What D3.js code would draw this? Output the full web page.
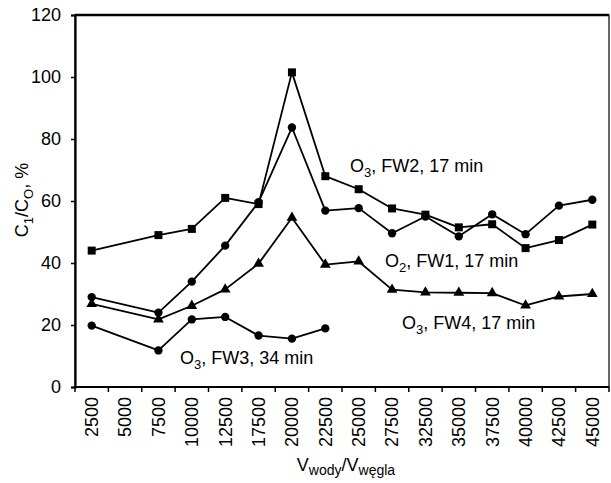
<!DOCTYPE html>
<html>
<head>
<meta charset="utf-8">
<script src="https://cdn.jsdelivr.net/npm/d3@7"></script>
<style>
  body { margin: 0; background: #fff; }
  text { font-family: "Liberation Sans", Arial, sans-serif; fill: #000; }
</style>
</head>
<body>
<svg id="chart" width="611" height="483"></svg>
<script>
'use strict';

// categories on the x axis (ratio of water to coal volume)
var categories = ['2500', '5000', '7500', '10000', '12500', '17500', '20000', '22500',
	'25000', '27500', '32500', '35000', '37500', '40000', '42500', '45000'];

var yTicks = [0, 20, 40, 60, 80, 100, 120];

// series values, null where there is no measurement
var fw2 = [44, null, 49, 51, 61, 59, 101.5, 68, 63.8, 57.6, 55.6, 51.5, 52.5, 44.8, 47.4, 52.4];
var fw1 = [29, null, 24, 34, 45.6, 59.6, 83.7, 56.9, 57.7, 49.6, 55, 48.6, 55.7, 49.3, 58.5, 60.4];
var fw4 = [26.8, null, 21.8, 26.2, 31.5, 39.8, 54.6, 39.5, 40.5, 31.4, 30.5, 30.4, 30.3, 26.3, 29.2, 30];
var fw3 = [19.8, null, 11.8, 21.8, 22.6, 16.6, 15.6, 18.9, null, null, null, null, null, null, null, null];

var series = [
	{name: 'fw2', values: fw2, marker: 'square'},
	{name: 'fw1', values: fw1, marker: 'circle'},
	{name: 'fw4', values: fw4, marker: 'triangle'},
	{name: 'fw3', values: fw3, marker: 'circle'}
];

var svg = d3.select('#chart');
var margin = {top: 15, right: 2, bottom: 96, left: 75};
var width = +svg.attr('width') - margin.left - margin.right;
var height = +svg.attr('height') - margin.top - margin.bottom;

var x = d3.scaleBand().domain(categories).range([margin.left, margin.left + width]).padding(0);
var y = d3.scaleLinear().domain([0, 120]).range([margin.top + height, margin.top]);

// frame
svg.append('rect')
	.attr('x', margin.left).attr('y', margin.top)
	.attr('width', width).attr('height', height)
	.attr('fill', 'none').attr('stroke', '#000').attr('stroke-width', 1.2);
svg.append('line')
	.attr('x1', margin.left).attr('x2', margin.left + width)
	.attr('y1', margin.top).attr('y2', margin.top)
	.attr('stroke', '#000').attr('stroke-width', 2.5);

// y axis
var yAxis = svg.append('g')
	.attr('transform', 'translate(' + margin.left + ',0)')
	.call(d3.axisLeft(y).tickValues(yTicks).tickSize(4).tickPadding(10));
yAxis.select('.domain').attr('stroke-width', 2.2);
yAxis.selectAll('.tick line').attr('stroke-width', 1.5);
yAxis.selectAll('text').style('font-size', '18px');

// x axis, ticks on the category boundaries
var boundaries = d3.range(categories.length + 1).map(function(i) { return margin.left + i * x.bandwidth(); });
var xAxis = svg.append('g');
xAxis.append('line')
	.attr('x1', margin.left).attr('x2', margin.left + width)
	.attr('y1', y(0)).attr('y2', y(0))
	.attr('stroke', '#000').attr('stroke-width', 2);
xAxis.selectAll('line.tick')
	.data(boundaries)
	.enter().append('line')
	.attr('class', 'tick')
	.attr('x1', function(d) { return d; }).attr('x2', function(d) { return d; })
	.attr('y1', y(0)).attr('y2', y(0) + 5)
	.attr('stroke', '#000').attr('stroke-width', 1.5);
xAxis.selectAll('text')
	.data(categories)
	.enter().append('text')
	.attr('transform', function(d) {
		return 'translate(' + (x(d) + x.bandwidth() / 2) + ',' + (y(0) + 10) + ') rotate(-90)';
	})
	.attr('dy', '0.35em')
	.attr('text-anchor', 'end')
	.style('font-size', '18px')
	.text(function(d) { return d; });

// lines (gaps are bridged, points are joined in order)
var line = d3.line()
	.x(function(d) { return x(d.c) + x.bandwidth() / 2; })
	.y(function(d) { return y(d.v); });

series.forEach(function(s) {
	var pts = s.values
		.map(function(v, i) { return {v: v, c: categories[i]}; })
		.filter(function(d) { return d.v !== null; });

	svg.append('path')
		.datum(pts)
		.attr('fill', 'none')
		.attr('stroke', '#000')
		.attr('stroke-width', 1.8)
		.attr('stroke-linejoin', 'round')
		.attr('d', line);

	var symType = s.marker === 'square' ? d3.symbolSquare
		: s.marker === 'triangle' ? d3.symbolTriangle : d3.symbolCircle;
	var symSize = s.marker === 'square' ? 64 : s.marker === 'triangle' ? 50 : 55;

	svg.selectAll(null)
		.data(pts)
		.enter().append('path')
		.attr('transform', function(d) {
			return 'translate(' + (x(d.c) + x.bandwidth() / 2) + ',' + y(d.v) + ')';
		})
		.attr('d', d3.symbol().type(symType).size(symSize))
		.attr('fill', '#000');
});

// series labels with subscripts
function subLabel(xPos, yPos, main, sub, rest) {
	var t = svg.append('text')
		.attr('x', xPos).attr('y', yPos)
		.style('font-size', '18px');
	t.append('tspan').text(main);
	t.append('tspan').attr('dy', 5).style('font-size', '13px').text(sub);
	t.append('tspan').attr('dy', -5).text(rest);
	return t;
}

subLabel(350, 172, 'O', '3', ', FW2, 17 min');
subLabel(385, 267, 'O', '2', ', FW1, 17 min');
subLabel(402, 329, 'O', '3', ', FW4, 17 min');
subLabel(180, 364, 'O', '3', ', FW3, 34 min');

// axis titles
var xt = svg.append('text')
	.attr('x', 346).attr('y', 471)
	.attr('text-anchor', 'middle')
	.style('font-size', '18px');
xt.append('tspan').text('V');
xt.append('tspan').attr('dy', 4).style('font-size', '14px').text('wody');
xt.append('tspan').attr('dy', -4).text('/V');
xt.append('tspan').attr('dy', 4).style('font-size', '14px').text('węgla');

var yt = svg.append('text')
	.attr('transform', 'translate(28,200) rotate(-90)')
	.attr('text-anchor', 'middle')
	.style('font-size', '18px');
yt.append('tspan').text('C');
yt.append('tspan').attr('dy', 5).style('font-size', '13px').text('1');
yt.append('tspan').attr('dy', -5).text('/C');
yt.append('tspan').attr('dy', 5).style('font-size', '13px').text('O');
yt.append('tspan').attr('dy', -5).text(', %');
</script>
</body>
</html>
